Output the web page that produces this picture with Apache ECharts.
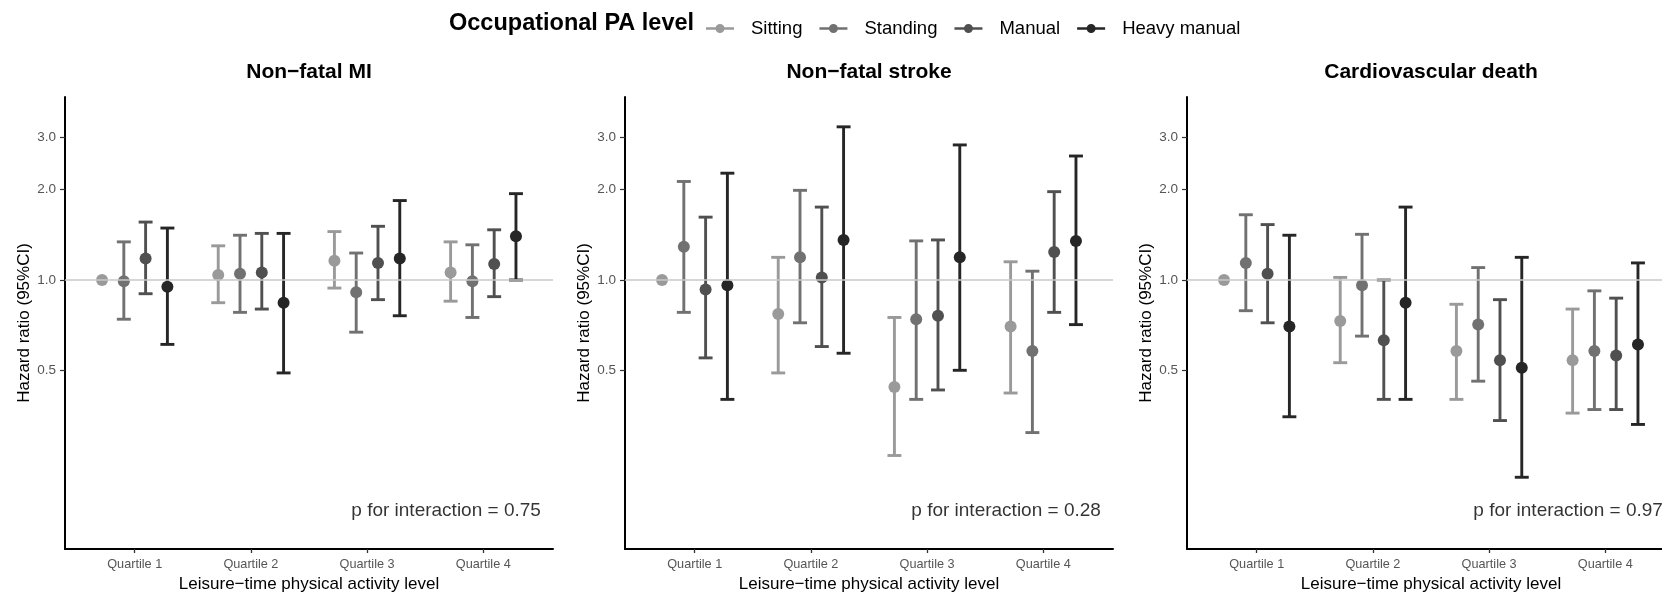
<!DOCTYPE html>
<html>
<head>
<meta charset="utf-8">
<script src="https://cdn.jsdelivr.net/npm/echarts@6/dist/echarts.min.js"></script>
<style>html,body{margin:0;padding:0;background:#fff}#c{width:1662px;height:592px}</style>
</head>
<body>
<div id="c"></div>
<script>
// ---- data ----
const groups = ['Sitting', 'Standing', 'Manual', 'Heavy manual'];
const quartiles = ['Quartile 1', 'Quartile 2', 'Quartile 3', 'Quartile 4'];
const panelTitles = ['Non\u2212fatal MI', 'Non\u2212fatal stroke', 'Cardiovascular death'];
const pTexts = ['p for interaction = 0.75', 'p for interaction = 0.28', 'p for interaction = 0.97'];
const yTickValues = [0.5, 1.0, 2.0, 3.0];

// rows: Sitting, Standing, Manual, Heavy manual; columns: Quartile 1..4
const miHR = [[1.00, 1.04, 1.16, 1.06], [0.99, 1.05, 0.91, 0.99], [1.18, 1.06, 1.14, 1.13], [0.95, 0.84, 1.18, 1.40]];
const miLo = [[null, 0.84, 0.94, 0.85], [0.74, 0.78, 0.67, 0.75], [0.90, 0.80, 0.86, 0.88], [0.61, 0.49, 0.76, 1.00]];
const miHi = [[null, 1.30, 1.45, 1.34], [1.34, 1.41, 1.23, 1.31], [1.56, 1.43, 1.51, 1.47], [1.49, 1.43, 1.84, 1.94]];

const strokeHR = [[1.00, 0.77, 0.44, 0.70], [1.29, 1.19, 0.74, 0.58], [0.93, 1.02, 0.76, 1.24], [0.96, 1.36, 1.19, 1.35]];
const strokeLo = [[null, 0.49, 0.26, 0.42], [0.78, 0.72, 0.40, 0.31], [0.55, 0.60, 0.43, 0.78], [0.40, 0.57, 0.50, 0.71]];
const strokeHi = [[null, 1.19, 0.75, 1.15], [2.13, 1.99, 1.35, 1.07], [1.62, 1.75, 1.36, 1.97], [2.27, 3.24, 2.82, 2.59]];

const cvdHR = [[1.00, 0.73, 0.58, 0.54], [1.14, 0.96, 0.71, 0.58], [1.05, 0.63, 0.54, 0.56], [0.70, 0.84, 0.51, 0.61]];
const cvdLo = [[null, 0.53, 0.40, 0.36], [0.79, 0.65, 0.46, 0.37], [0.72, 0.40, 0.34, 0.37], [0.35, 0.40, 0.22, 0.33]];
const cvdHi = [[null, 1.02, 0.83, 0.80], [1.65, 1.42, 1.10, 0.92], [1.53, 1.00, 0.86, 0.87], [1.41, 1.75, 1.19, 1.14]];

const pAnnotX = 4.5, pAnnotY = 0.17;

// ---- styling / layout ----
const colors = ['#9a9a9a', '#717171', '#505050', '#262626'];
const FONT = '"Liberation Sans", Arial, Helvetica, sans-serif';
const panelLeft = [65, 625, 1187];
const gridTop = 97, gridW = 488, gridH = 452;
const yMinLog = -0.8967, yMaxLog = 0.61;
const dodgeWidth = 0.75, capWidth = 0.12;

const HR = [miHR, strokeHR, cvdHR];
const LO = [miLo, strokeLo, cvdLo];
const HI = [miHi, strokeHi, cvdHi];

const L = v => Math.log10(v);
const dodge = g => -dodgeWidth / 2 + dodgeWidth / groups.length * (g + 0.5);

const grid = [], xAxis = [], yAxis = [], series = [], graphic = [];

panelLeft.forEach((left, p) => {
  grid.push({left: left, top: gridTop, width: gridW, height: gridH, containLabel: false,
    outerBoundsMode: 'none'});
  xAxis.push({
    type: 'value', gridIndex: p, min: 0.4, max: 4.6,
    name: 'Leisure\u2212time physical activity level', nameLocation: 'middle', nameGap: 24,
    nameTextStyle: {fontSize: 17, color: '#000', fontFamily: FONT},
    axisLine: {onZero: false, lineStyle: {color: '#000', width: 2}},
    axisTick: {customValues: [1, 2, 3, 4], length: 4, lineStyle: {color: '#333', width: 1.3}},
    axisLabel: {customValues: [1, 2, 3, 4], formatter: v => quartiles[Math.round(v) - 1],
      fontSize: 12.7, color: '#555', fontFamily: FONT, margin: 9},
    splitLine: {show: false}
  });
  yAxis.push({
    type: 'value', gridIndex: p, min: yMinLog, max: yMaxLog,
    name: 'Hazard ratio (95%CI)', nameLocation: 'middle', nameGap: 32, nameRotate: 90,
    nameTextStyle: {fontSize: 17, color: '#000', fontFamily: FONT},
    axisLine: {onZero: false, lineStyle: {color: '#000', width: 2}},
    axisTick: {customValues: yTickValues.map(L), length: 5, lineStyle: {color: '#333', width: 1.2}},
    axisLabel: {customValues: yTickValues.map(L), formatter: v => Math.pow(10, v).toFixed(1),
      fontSize: 13.5, color: '#555', fontFamily: FONT, margin: 9},
    splitLine: {show: false}
  });

  // reference line at HR = 1
  series.push({
    type: 'line', xAxisIndex: p, yAxisIndex: p, data: [], z: 1, silent: true,
    markLine: {silent: true, symbol: ['none', 'none'], label: {show: false}, animation: false,
      lineStyle: {color: '#c8c8c8', width: 1.6, type: 'solid'}, data: [{yAxis: L(1)}]}
  });

  groups.forEach((gName, g) => {
    const barData = [], ptData = [];
    quartiles.forEach((q, qi) => {
      const x = qi + 1 + dodge(g);
      ptData.push([x, L(HR[p][g][qi])]);
      if (LO[p][g][qi] != null) barData.push([x, L(LO[p][g][qi]), L(HI[p][g][qi])]);
    });
    const col = colors[g];
    series.push({
      type: 'custom', name: gName, xAxisIndex: p, yAxisIndex: p, z: 3,
      itemStyle: {color: col},
      data: barData,
      renderItem: (params, api) => {
        const x = api.value(0);
        const a = api.coord([x, api.value(1)]);
        const b = api.coord([x, api.value(2)]);
        const hw = api.size([capWidth, 0])[0] / 2;
        const st = {stroke: col, lineWidth: 2.9, fill: null};
        return {type: 'group', children: [
          {type: 'line', shape: {x1: a[0], y1: a[1], x2: b[0], y2: b[1]}, style: st},
          {type: 'line', shape: {x1: a[0] - hw, y1: a[1], x2: a[0] + hw, y2: a[1]}, style: st},
          {type: 'line', shape: {x1: b[0] - hw, y1: b[1], x2: b[0] + hw, y2: b[1]}, style: st}
        ]};
      }
    });
    series.push({
      type: 'scatter', name: gName, xAxisIndex: p, yAxisIndex: p, z: 4,
      symbol: 'circle', symbolSize: 12, itemStyle: {color: col, opacity: 1},
      data: ptData
    });
  });

  // p for interaction annotation (right-aligned at data point)
  series.push({
    type: 'scatter', xAxisIndex: p, yAxisIndex: p, z: 5, silent: true, clip: false,
    symbol: 'circle', symbolSize: 1, itemStyle: {color: 'rgba(255,255,255,0)'},
    data: [[pAnnotX, L(pAnnotY)]],
    label: {show: true, position: 'left', distance: 0, formatter: pTexts[p],
      fontSize: 19, fontFamily: FONT, color: '#000'}
  });

  graphic.push({type: 'text', x: left + gridW / 2, y: 72, silent: true,
    style: {text: panelTitles[p], font: 'bold 21px ' + FONT, fill: '#000',
      align: 'center', verticalAlign: 'middle'}});
});

graphic.push({type: 'text', x: 449, y: 24, silent: true,
  style: {text: 'Occupational PA level', font: 'bold 23.5px ' + FONT, fill: '#000',
    align: 'left', verticalAlign: 'middle'}});

const option = {
  animation: false,
  backgroundColor: '#fff',
  grid, xAxis, yAxis, series, graphic,
  legend: {
    data: groups, left: 706, top: 19, padding: 0, orient: 'horizontal',
    itemWidth: 28, itemHeight: 10, itemGap: 17, selectedMode: false,
    icon: 'path://M0,3.8L28,3.8L28,6.2L0,6.2Z M9.5,5A4.5,4.5,0,1,1,18.5,5A4.5,4.5,0,1,1,9.5,5Z M0,0L0.01,0L0,0.01Z M0,10L0.01,10L0,9.99Z',
    textStyle: {fontSize: 18.5, color: '#000', fontFamily: FONT, padding: [0, 0, 0, 12]}
  }
};

const chart = echarts.init(document.getElementById('c'), null, {renderer: 'canvas'});
chart.setOption(option);
</script>
</body>
</html>
